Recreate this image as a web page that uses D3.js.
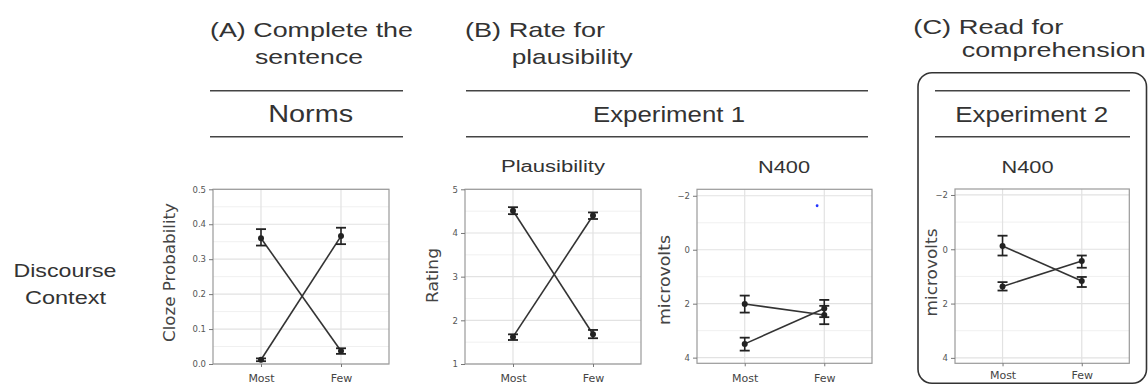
<!DOCTYPE html>
<html>
<head>
<meta charset="utf-8">
<script src="https://cdn.jsdelivr.net/npm/d3@7"></script>
<style>
  body { margin: 0; background: #fff; }
  svg { display: block; }
</style>
</head>
<body>
<div class="graphic_container"></div>
<script>
//categories on the x axis of every panel
const categories = ['Most', 'Few'];

//(A) norms: cloze probability, two lines (mean, lower and upper end of error bar)
const clozeLine1 = [0.360, 0.037];
const clozeLine1Lo = [0.339, 0.029];
const clozeLine1Hi = [0.386, 0.045];
const clozeLine2 = [0.012, 0.366];
const clozeLine2Lo = [0.008, 0.343];
const clozeLine2Hi = [0.016, 0.390];
const clozeTicks = [0, 0.1, 0.2, 0.3, 0.4, 0.5];
const clozeMinor = [0.05, 0.15, 0.25, 0.35, 0.45];

//(B) experiment 1: plausibility rating
const ratingLine1 = [4.51, 1.68];
const ratingLine1Lo = [4.43, 1.59];
const ratingLine1Hi = [4.59, 1.78];
const ratingLine2 = [1.62, 4.40];
const ratingLine2Lo = [1.55, 4.32];
const ratingLine2Hi = [1.68, 4.47];
const ratingTicks = [1, 2, 3, 4, 5];
const ratingMinor = [1.5, 2.5, 3.5, 4.5];

//(B) experiment 1: N400 microvolts
const n400aLine1 = [2.01, 2.42];
const n400aLine1Lo = [1.70, 2.08];
const n400aLine1Hi = [2.33, 2.76];
const n400aLine2 = [3.49, 2.18];
const n400aLine2Lo = [3.26, 1.86];
const n400aLine2Hi = [3.74, 2.50];
//stray blue point in the N400 panel (category position, value)
const strayPoint = [0.91, -1.63];

//(C) experiment 2: N400 microvolts
const n400bLine1 = [-0.12, 1.17];
const n400bLine1Lo = [-0.50, 1.02];
const n400bLine1Hi = [0.23, 1.39];
const n400bLine2 = [1.37, 0.43];
const n400bLine2Lo = [1.21, 0.23];
const n400bLine2Hi = [1.52, 0.68];
const voltTicks = [-2, 0, 2, 4];
const voltMinor = [-1, 1, 3];

const makeSeries = (mean, lo, hi) => categories.map((c, i) => ({cat: i, mean: mean[i], lo: lo[i], hi: hi[i]}));

const root_svg = d3.select('.graphic_container')
  .append('svg')
  .attr('width', 1148)
  .attr('height', 385)
  .style('background', '#fff');

const titleFont = `'Liberation Sans', Arial, sans-serif`;
const plotFont = `'DejaVu Sans', sans-serif`;

//text helper, width forces the stretched look of the original
function fitText(str, x, y, size, width, anchor, family, color) {
  const t = root_svg.append('text')
    .text(str)
    .attr('x', x)
    .attr('y', y)
    .attr('text-anchor', anchor || 'start')
    .style('font-family', family || titleFont)
    .style('font-size', size + 'px')
    .style('fill', color || '#333');
  if (width) t.attr('textLength', width).attr('lengthAdjust', 'spacingAndGlyphs');
  return t;
}

//panel titles
fitText('(A) Complete the', 210, 37, 21, 203);
fitText('sentence', 255, 63.5, 21, 108);
fitText('(B) Rate for', 465, 37, 21, 140);
fitText('plausibility', 511.7, 63.5, 21, 121);
fitText('(C) Read for', 913.3, 34, 21, 150);
fitText('comprehension', 961.7, 57, 21, 184);

//row label
fitText('Discourse', 65, 276.7, 19, 103, 'middle');
fitText('Context', 65.5, 304, 19, 81, 'middle');

//box round experiment 2
root_svg.append('rect')
  .attr('x', 918)
  .attr('y', 72.7)
  .attr('width', 228.5)
  .attr('height', 310.5)
  .attr('rx', 14)
  .style('fill', 'none')
  .style('stroke', '#333')
  .style('stroke-width', 1.6);

//header bands with rules above and below
const headers = [
  {text: 'Norms', x1: 210, x2: 403, cx: 310.7, size: 23, width: 85},
  {text: 'Experiment 1', x1: 466, x2: 868, cx: 669, size: 22, width: 152},
  {text: 'Experiment 2', x1: 935, x2: 1130, cx: 1031.7, size: 22, width: 153}
];
headers.forEach(h => {
  [90.7, 136.7].forEach(yy => {
    root_svg.append('line')
      .attr('x1', h.x1).attr('x2', h.x2)
      .attr('y1', yy).attr('y2', yy)
      .style('stroke', '#444')
      .style('stroke-width', 1.5);
  });
  fitText(h.text, h.cx, 121.7, h.size, h.width, 'middle');
});

//subplot titles
fitText('Plausibility', 553, 172, 16, 104, 'middle');
fitText('N400', 784, 173, 16, 52, 'middle');
fitText('N400', 1027.5, 173.3, 16, 52, 'middle');

const panels = [
  {left: 213, right: 389, top: 189.3, bottom: 364, domain: [0, 0.5], reversed: false,
   ticks: clozeTicks, minor: clozeMinor, fmt: d3.format('.1f'),
   ylabel: 'Cloze Probability', ylx: 169.5, yly: 272.5, ylw: 139, xly: 382,
   series: [makeSeries(clozeLine1, clozeLine1Lo, clozeLine1Hi), makeSeries(clozeLine2, clozeLine2Lo, clozeLine2Hi)]},
  {left: 465, right: 641, top: 189.3, bottom: 364, domain: [1, 5], reversed: false,
   ticks: ratingTicks, minor: ratingMinor, fmt: d3.format('d'),
   ylabel: 'Rating', ylx: 432, yly: 275.5, ylw: 55, xly: 382,
   series: [makeSeries(ratingLine1, ratingLine1Lo, ratingLine1Hi), makeSeries(ratingLine2, ratingLine2Lo, ratingLine2Hi)]},
  {left: 697, right: 872, top: 189.3, bottom: 363.3, domain: [-2.24, 4.21], reversed: true,
   ticks: voltTicks, minor: voltMinor, fmt: d => d3.format('d')(d).replace('-', '\u2212'),
   ylabel: 'microvolts', ylx: 664, yly: 280, ylw: 90, xly: 382, stray: strayPoint,
   series: [makeSeries(n400aLine1, n400aLine1Lo, n400aLine1Hi), makeSeries(n400aLine2, n400aLine2Lo, n400aLine2Hi)]},
  {left: 955, right: 1129.3, top: 189, bottom: 363.3, domain: [-2.22, 4.2], reversed: true,
   ticks: voltTicks, minor: voltMinor, fmt: d => d3.format('d')(d).replace('-', '\u2212'),
   ylabel: 'microvolts', ylx: 931.5, yly: 272.5, ylw: 88, xly: 379.5,
   series: [makeSeries(n400bLine1, n400bLine1Lo, n400bLine1Hi), makeSeries(n400bLine2, n400bLine2Lo, n400bLine2Hi)]}
];

function drawPanel(p) {
  const g = root_svg.append('g');

  const x = d3.scaleLinear()
    .domain([-0.6, 1.6])
    .range([p.left, p.right]);

  const y = d3.scaleLinear()
    .domain(p.domain)
    .range(p.reversed ? [p.top, p.bottom] : [p.bottom, p.top]);

  //minor grid first, then major grid
  g.selectAll('.minor')
    .data(p.minor)
    .enter()
    .append('line')
    .attr('x1', p.left).attr('x2', p.right)
    .attr('y1', d => y(d)).attr('y2', d => y(d))
    .style('stroke', '#f0f0f0')
    .style('stroke-width', 1);

  g.selectAll('.major')
    .data(p.ticks)
    .enter()
    .append('line')
    .attr('x1', p.left).attr('x2', p.right)
    .attr('y1', d => y(d)).attr('y2', d => y(d))
    .style('stroke', '#e2e2e2')
    .style('stroke-width', 1.2);

  g.selectAll('.vgrid')
    .data(categories)
    .enter()
    .append('line')
    .attr('x1', (d, i) => x(i)).attr('x2', (d, i) => x(i))
    .attr('y1', p.top).attr('y2', p.bottom)
    .style('stroke', '#e2e2e2')
    .style('stroke-width', 1.2);

  //frame
  g.append('rect')
    .attr('x', p.left)
    .attr('y', p.top)
    .attr('width', p.right - p.left)
    .attr('height', p.bottom - p.top)
    .style('fill', 'none')
    .style('stroke', '#9a9a9a')
    .style('stroke-width', 1.2);

  //y axis
  const yAxis = g.append('g')
    .attr('transform', `translate(${p.left},0)`)
    .call(d3.axisLeft(y).tickValues(p.ticks).tickFormat(p.fmt).tickSize(4).tickPadding(3));
  yAxis.select('.domain').remove();
  yAxis.selectAll('line').style('stroke', '#777');
  yAxis.selectAll('text')
    .style('font-family', plotFont)
    .style('font-size', '8.5px')
    .style('fill', '#555');

  //x axis
  const xAxis = g.append('g')
    .attr('transform', `translate(0,${p.bottom})`)
    .call(d3.axisBottom(x).tickValues([0, 1]).tickFormat(i => categories[i]).tickSize(3).tickPadding(0));
  xAxis.select('.domain').remove();
  xAxis.selectAll('line').style('stroke', '#777');
  xAxis.selectAll('text')
    .attr('y', p.xly - p.bottom)
    .attr('dy', null)
    .style('font-family', plotFont)
    .style('font-size', '11px')
    .style('fill', '#444');

  //y label
  g.append('text')
    .text(p.ylabel)
    .attr('transform', `translate(${p.ylx + 5.5},${p.yly}) rotate(-90)`)
    .attr('text-anchor', 'middle')
    .attr('textLength', p.ylw)
    .attr('lengthAdjust', 'spacingAndGlyphs')
    .style('font-family', plotFont)
    .style('font-size', '15.5px')
    .style('fill', '#444');

  const line = d3.line()
    .x(d => x(d.cat))
    .y(d => y(d.mean));

  p.series.forEach(s => {
    g.append('path')
      .attr('d', line(s))
      .style('fill', 'none')
      .style('stroke', '#333')
      .style('stroke-width', 1.6);

    //error bars with caps
    s.forEach(d => {
      g.append('line')
        .attr('x1', x(d.cat)).attr('x2', x(d.cat))
        .attr('y1', y(d.lo)).attr('y2', y(d.hi))
        .style('stroke', '#222')
        .style('stroke-width', 1.6);
      [d.lo, d.hi].forEach(v => {
        g.append('line')
          .attr('x1', x(d.cat) - 5).attr('x2', x(d.cat) + 5)
          .attr('y1', y(v)).attr('y2', y(v))
          .style('stroke', '#222')
          .style('stroke-width', 1.8);
      });
    });

    g.selectAll(null)
      .data(s)
      .enter()
      .append('circle')
      .attr('cx', d => x(d.cat))
      .attr('cy', d => y(d.mean))
      .attr('r', 3)
      .style('fill', '#222');
  });

  if (p.stray) {
    g.append('circle')
      .attr('cx', x(p.stray[0]))
      .attr('cy', y(p.stray[1]))
      .attr('r', 1.4)
      .style('fill', '#2233ff');
  }
}

panels.forEach(drawPanel);
</script>
</body>
</html>
